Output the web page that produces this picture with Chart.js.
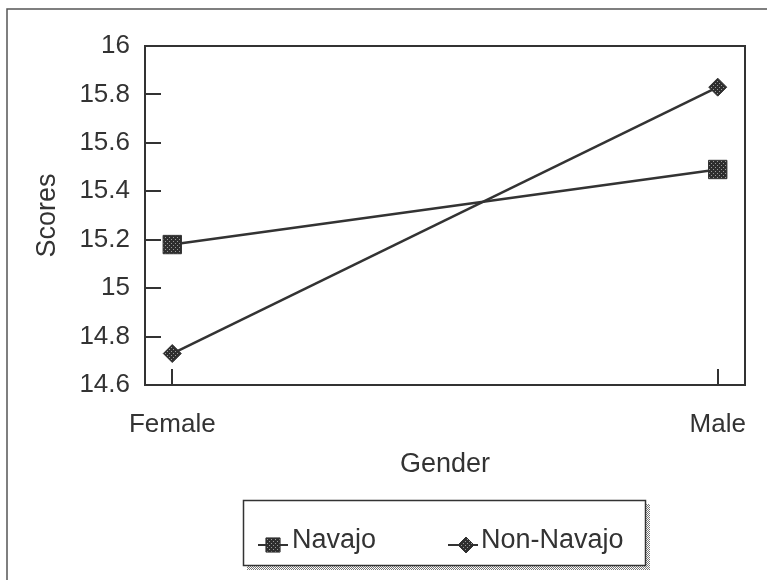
<!DOCTYPE html>
<html>
<head>
<meta charset="utf-8">
<script src="https://cdn.jsdelivr.net/npm/chart.js@4/dist/chart.umd.min.js"></script>
<style>
  html, body { margin: 0; padding: 0; background: #fff; }
  #wrap { width: 767px; height: 580px; }
</style>
</head>
<body>
<div id="wrap"><canvas id="chart" width="767" height="580"></canvas></div>
<script>
const genders = ['Female', 'Male'];
const navajo = [15.18, 15.49];
const nonNavajo = [14.73, 15.83];
const scoreTicks = [14.6, 14.8, 15, 15.2, 15.4, 15.6, 15.8, 16];

const ink = '#333333';
const fontFamily = '"Liberation Sans", Arial, sans-serif';

// dotted dark fill used by the markers
function dottedPattern() {
    const c = document.createElement('canvas');
    c.width = 4; c.height = 4;
    const g = c.getContext('2d');
    g.fillStyle = '#2e2e2e';
    g.fillRect(0, 0, 4, 4);
    g.fillStyle = '#999';
    g.fillRect(1, 1, 1, 1);
    g.fillRect(3, 3, 1, 1);
    return g.createPattern(c, 'repeat');
}

function shadowPattern() {
    const c = document.createElement('canvas');
    c.width = 2; c.height = 2;
    const g = c.getContext('2d');
    g.fillStyle = '#fff';
    g.fillRect(0, 0, 2, 2);
    g.fillStyle = '#777';
    g.fillRect(0, 0, 1, 1);
    g.fillRect(1, 1, 1, 1);
    return g.createPattern(c, 'repeat');
}

const dots = dottedPattern();

const frame = {
    id: 'frame',
    beforeDatasetsDraw(chart) {
        const {ctx, chartArea: a, scales} = chart;
        ctx.save();
        ctx.strokeStyle = ink;
        ctx.lineWidth = 2;
        ctx.strokeRect(a.left, a.top, a.right - a.left, a.bottom - a.top);
        // inner tick marks
        ctx.beginPath();
        scoreTicks.forEach(v => {
            const y = Math.round(scales.y.getPixelForValue(v));
            ctx.moveTo(a.left, y);
            ctx.lineTo(a.left + 16, y);
        });
        genders.forEach((g, i) => {
            const x = Math.round(scales.x.getPixelForValue(i));
            ctx.moveTo(x, a.bottom);
            ctx.lineTo(x, a.bottom - 16);
        });
        ctx.stroke();
        ctx.restore();
    },
    afterDraw(chart) {
        const {ctx} = chart;
        ctx.save();
        // outer frame (top and left edges visible)
        ctx.strokeStyle = '#555';
        ctx.lineWidth = 1.5;
        ctx.beginPath();
        ctx.moveTo(7, 580);
        ctx.lineTo(7, 9);
        ctx.lineTo(767, 9);
        ctx.stroke();

        // legend box with shadow
        const bx = 243, by = 500, bw = 402, bh = 65;
        ctx.fillStyle = shadowPattern();
        ctx.fillRect(bx + bw, by + 4, 5, bh + 1);
        ctx.fillRect(bx + 4, by + bh, bw + 1, 5);
        ctx.fillStyle = '#fff';
        ctx.fillRect(bx, by, bw, bh);
        ctx.strokeStyle = ink;
        ctx.lineWidth = 1.5;
        ctx.strokeRect(bx + 0.5, by + 0.5, bw, bh);

        const lineX = [258, 448];
        const markX = [273, 466];
        const textX = [292, 481];
        const ly = 541;
        ctx.font = '27px ' + fontFamily;
        ctx.textBaseline = 'middle';
        chart.data.datasets.forEach((ds, i) => {
            ctx.strokeStyle = ink;
            ctx.lineWidth = 2;
            ctx.beginPath();
            ctx.moveTo(lineX[i], ly + 4);
            ctx.lineTo(lineX[i] + 30, ly + 4);
            ctx.stroke();
            ctx.fillStyle = dots;
            ctx.lineWidth = 1;
            Chart.helpers.drawPoint(ctx, {
                pointStyle: ds.pointStyle,
                radius: ds.pointStyle === 'rect' ? 10 : 8,
                rotation: 0,
                borderWidth: 1
            }, markX[i], ly + 4);
            ctx.fillStyle = ink;
            ctx.fillText(ds.label, textX[i], ly);
        });
        ctx.restore();
    }
};

const ctx = document.getElementById('chart').getContext('2d');
const myChart = new Chart(ctx, {
    type: 'line',
    data: {
        datasets: [
            {
                label: 'Navajo',
                data: navajo.map((v, i) => ({x: i, y: v})),
                borderColor: ink,
                borderWidth: 2.5,
                pointStyle: 'rect',
                pointRadius: 13,
                pointBackgroundColor: dots,
                pointBorderColor: ink,
                pointBorderWidth: 1
            },
            {
                label: 'Non-Navajo',
                data: nonNavajo.map((v, i) => ({x: i, y: v})),
                borderColor: ink,
                borderWidth: 2.5,
                pointStyle: 'rectRot',
                pointRadius: 9,
                pointBackgroundColor: dots,
                pointBorderColor: ink,
                pointBorderWidth: 1
            }
        ]
    },
    options: {
        responsive: false,
        animation: false,
        events: [],
        layout: {
            padding: {left: 0, top: 46, right: 22, bottom: 0}
        },
        plugins: {
            legend: {display: false},
            tooltip: {enabled: false}
        },
        scales: {
            x: {
                type: 'linear',
                min: -0.05,
                max: 1.05,
                afterBuildTicks: scale => {
                    scale.ticks = genders.map((g, i) => ({value: i}));
                },
                afterFit: scale => {
                    scale.height = 195;
                    scale.paddingLeft = 0;
                    scale.paddingRight = 0;
                },
                grid: {display: false, drawTicks: false},
                border: {display: false},
                ticks: {
                    padding: 24,
                    color: ink,
                    font: {family: fontFamily, size: 26},
                    callback: value => genders[value] ?? ''
                },
                title: {
                    display: true,
                    text: 'Gender',
                    color: ink,
                    font: {family: fontFamily, size: 27},
                    padding: {top: 0, bottom: 99}
                }
            },
            y: {
                min: 14.6,
                max: 16,
                afterBuildTicks: scale => {
                    scale.ticks = scoreTicks.map(v => ({value: v}));
                },
                afterFit: scale => {
                    scale.width = 145;
                    scale.paddingTop = 0;
                    scale.paddingBottom = 0;
                },
                grid: {display: false, drawTicks: false},
                border: {display: false},
                ticks: {
                    padding: 15,
                    color: ink,
                    font: {family: fontFamily, size: 26},
                    callback: value => String(+value.toFixed(1))
                },
                title: {
                    display: true,
                    text: 'Scores',
                    color: ink,
                    font: {family: fontFamily, size: 27},
                    padding: {top: 31, bottom: 0}
                }
            }
        }
    },
    plugins: [frame]
});
</script>
</body>
</html>
